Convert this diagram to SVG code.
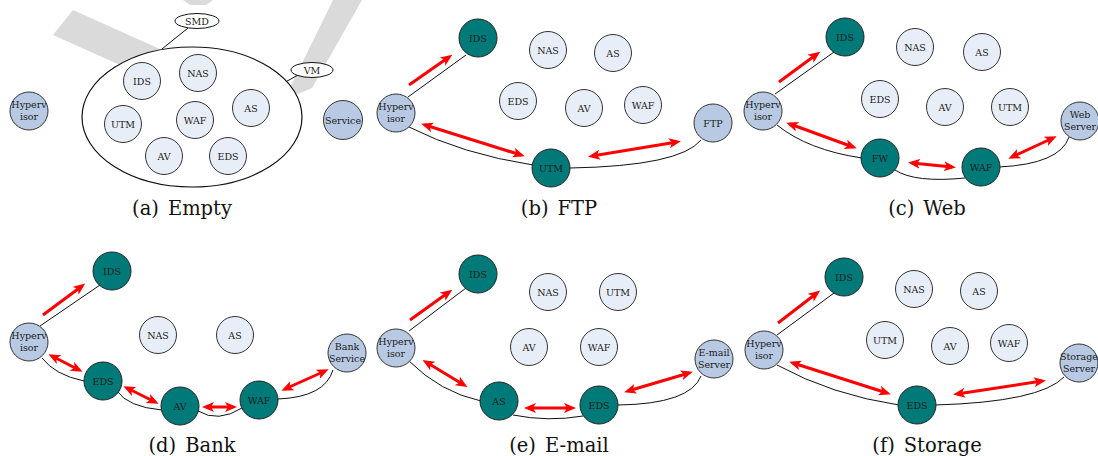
<svg xmlns="http://www.w3.org/2000/svg" width="1098" height="456" viewBox="0 0 1098 456">
<style>
.light{fill:#E8EEF8;stroke:#333;stroke-width:1}
.teal{fill:#007A78;stroke:#222;stroke-width:1}
.hyp{fill:#B8CAE3;stroke:#333;stroke-width:1}
.lbl{font-family:"DejaVu Serif","Liberation Serif",serif;font-size:9.5px;text-anchor:middle;fill:#1a1a1a}
.cap{font-family:"DejaVu Serif","Liberation Serif",serif;font-size:19.5px;fill:#111;text-anchor:middle}
.link{fill:none;stroke:#111;stroke-width:1}
.arr{fill:none;stroke:#FF0000;stroke-width:3;marker-end:url(#ah)}
.arr2{fill:none;stroke:#FF0000;stroke-width:3;marker-end:url(#ah);marker-start:url(#ah)}
.wm{fill:#DADADA}
</style>
<defs>
<marker id="ah" viewBox="0 0 12 10" refX="8" refY="5" markerWidth="12" markerHeight="10" markerUnits="userSpaceOnUse" orient="auto-start-reverse">
<path d="M0,0 L12,5 L0,10 L3,5 z" fill="#FF0000"/>
</marker>
</defs>
<rect width="1098" height="456" fill="#fff"/>

<g id="watermark">
<polygon class="wm" points="73,10 53,35 200,101 220,76"/>
<polygon class="wm" points="333,0 362,0 312,88 284,100"/>
<polygon class="wm" points="183,0 213,0 206,5 190,5"/>
</g>

<!-- Panel (a) -->
<g id="a-links">
<line class="link" x1="188" y1="28" x2="162" y2="49"/>
<line class="link" x1="298" y1="75" x2="264" y2="94"/>
</g>
<g id="a-vmgroup"><ellipse cx="192" cy="117" rx="110" ry="70" fill="#fff" stroke="#111" stroke-width="1.2"/></g>
<g id="a-smd"><ellipse cx="197" cy="21" rx="22" ry="7.5" fill="#fff" stroke="#111"/><text class="lbl" x="197" y="24.5">SMD</text></g>
<g id="a-vm"><ellipse cx="312" cy="70" rx="21" ry="7.5" fill="#fff" stroke="#111"/><text class="lbl" x="312" y="73.5">VM</text></g>
<g id="a-ids"><circle class="light" cx="142" cy="81" r="18.5"/><text class="lbl" x="142" y="84.5">IDS</text></g>
<g id="a-nas"><circle class="light" cx="198" cy="73" r="18.5"/><text class="lbl" x="198" y="76.5">NAS</text></g>
<g id="a-as"><circle class="light" cx="251" cy="108" r="18.5"/><text class="lbl" x="251" y="111.5">AS</text></g>
<g id="a-utm"><circle class="light" cx="123" cy="124" r="18.5"/><text class="lbl" x="123" y="127.5">UTM</text></g>
<g id="a-waf"><circle class="light" cx="195" cy="120" r="18.5"/><text class="lbl" x="195" y="123.5">WAF</text></g>
<g id="a-av"><circle class="light" cx="164" cy="156" r="18.5"/><text class="lbl" x="164" y="159.5">AV</text></g>
<g id="a-eds"><circle class="light" cx="228" cy="156" r="18.5"/><text class="lbl" x="228" y="159.5">EDS</text></g>
<g id="a-hyp"><circle class="hyp" cx="29" cy="111" r="19"/><text class="lbl" x="29" y="108">Hyperv</text><text class="lbl" x="29" y="120">isor</text></g>
<g id="a-service"><circle class="hyp" cx="343" cy="120" r="19.5"/><text class="lbl" x="343" y="123.5">Service</text></g>
<text class="cap" x="182" y="215">(a)<tspan dx="9">Empty</tspan></text>

<!-- Panel (b) -->
<g id="b-connectors">
<line class="link" x1="408" y1="97" x2="466" y2="55"/>
<path class="link" d="M409,127 Q462,154 533,165"/>
<path class="link" d="M570,168 Q680,166 701,140"/>
<line class="arr" x1="409" y1="85" x2="449" y2="57"/>
<line class="arr2" x1="425" y1="125" x2="521" y2="155"/>
<line class="arr2" x1="592" y1="156" x2="677" y2="142"/>
</g>
<g id="b-ids"><circle class="teal" cx="478" cy="38" r="19"/><text class="lbl" x="478" y="41.5">IDS</text></g>
<g id="b-nas"><circle class="light" cx="548" cy="50" r="18.5"/><text class="lbl" x="548" y="53.5">NAS</text></g>
<g id="b-as"><circle class="light" cx="613" cy="53" r="18.5"/><text class="lbl" x="613" y="56.5">AS</text></g>
<g id="b-eds"><circle class="light" cx="518" cy="101" r="18.5"/><text class="lbl" x="518" y="104.5">EDS</text></g>
<g id="b-av"><circle class="light" cx="584" cy="108" r="18.5"/><text class="lbl" x="584" y="111.5">AV</text></g>
<g id="b-waf"><circle class="light" cx="643" cy="105" r="18.5"/><text class="lbl" x="643" y="108.5">WAF</text></g>
<g id="b-hyp"><circle class="hyp" cx="396" cy="113" r="19"/><text class="lbl" x="396" y="110">Hyperv</text><text class="lbl" x="396" y="122">isor</text></g>
<g id="b-ftp"><circle class="hyp" cx="713" cy="123" r="19"/><text class="lbl" x="713" y="126.5">FTP</text></g>
<g id="b-utm"><circle class="teal" cx="551" cy="168" r="19"/><text class="lbl" x="551" y="171.5">UTM</text></g>
<text class="cap" x="559" y="215">(b)<tspan dx="9">FTP</tspan></text>

<!-- Panel (c) -->
<g id="c-connectors">
<line class="link" x1="775" y1="94" x2="834" y2="52"/>
<path class="link" d="M777,125 Q808,150 862,158"/>
<path class="link" d="M895,170 Q915,183 965,178"/>
<path class="link" d="M999,167 Q1060,164 1069,137"/>
<line class="arr" x1="779" y1="82" x2="817" y2="54"/>
<line class="arr2" x1="790" y1="124" x2="853" y2="147"/>
<line class="arr2" x1="912" y1="163" x2="952" y2="167"/>
<line class="arr2" x1="1012" y1="157" x2="1053" y2="138"/>
</g>
<g id="c-ids"><circle class="teal" cx="845" cy="37" r="19"/><text class="lbl" x="845" y="40.5">IDS</text></g>
<g id="c-nas"><circle class="light" cx="915" cy="47" r="18.5"/><text class="lbl" x="915" y="50.5">NAS</text></g>
<g id="c-as"><circle class="light" cx="982" cy="52" r="18.5"/><text class="lbl" x="982" y="55.5">AS</text></g>
<g id="c-eds"><circle class="light" cx="880" cy="99" r="18.5"/><text class="lbl" x="880" y="102.5">EDS</text></g>
<g id="c-av"><circle class="light" cx="945" cy="107" r="18.5"/><text class="lbl" x="945" y="110.5">AV</text></g>
<g id="c-utm"><circle class="light" cx="1010" cy="107" r="18.5"/><text class="lbl" x="1010" y="110.5">UTM</text></g>
<g id="c-hyp"><circle class="hyp" cx="763" cy="111" r="19"/><text class="lbl" x="763" y="108">Hyperv</text><text class="lbl" x="763" y="120">isor</text></g>
<g id="c-web"><circle class="hyp" cx="1080" cy="121" r="19"/><text class="lbl" x="1080" y="118">Web</text><text class="lbl" x="1080" y="130">Server</text></g>
<g id="c-fw"><circle class="teal" cx="880" cy="158" r="19"/><text class="lbl" x="880" y="161.5">FW</text></g>
<g id="c-waf"><circle class="teal" cx="981" cy="167" r="19"/><text class="lbl" x="981" y="170.5">WAF</text></g>
<text class="cap" x="927" y="215">(c)<tspan dx="9">Web</tspan></text>

<!-- Panel (d) -->
<g id="d-connectors">
<line class="link" x1="40" y1="326" x2="100" y2="285"/>
<path class="link" d="M42,358 Q55,375 84,381"/>
<path class="link" d="M117,391 Q128,407 162,410"/>
<path class="link" d="M198,411 Q218,423 242,408"/>
<path class="link" d="M278,399 Q325,397 333,370"/>
<line class="arr" x1="43" y1="315" x2="82" y2="286"/>
<line class="arr2" x1="52" y1="356" x2="79" y2="370"/>
<line class="arr2" x1="127" y1="388" x2="155" y2="402"/>
<line class="arr2" x1="206" y1="407" x2="233" y2="407"/>
<line class="arr2" x1="285" y1="389" x2="325" y2="371"/>
</g>
<g id="d-ids"><circle class="teal" cx="112" cy="271" r="19"/><text class="lbl" x="112" y="274.5">IDS</text></g>
<g id="d-nas"><circle class="light" cx="158" cy="335" r="18.5"/><text class="lbl" x="158" y="338.5">NAS</text></g>
<g id="d-as"><circle class="light" cx="235" cy="335" r="18.5"/><text class="lbl" x="235" y="338.5">AS</text></g>
<g id="d-hyp"><circle class="hyp" cx="29" cy="342" r="19"/><text class="lbl" x="29" y="339">Hyperv</text><text class="lbl" x="29" y="351">isor</text></g>
<g id="d-bank"><circle class="hyp" cx="347" cy="353" r="19"/><text class="lbl" x="347" y="350">Bank</text><text class="lbl" x="347" y="362">Service</text></g>
<g id="d-eds"><circle class="teal" cx="103" cy="381" r="19"/><text class="lbl" x="103" y="384.5">EDS</text></g>
<g id="d-av"><circle class="teal" cx="180" cy="406" r="19"/><text class="lbl" x="180" y="409.5">AV</text></g>
<g id="d-waf"><circle class="teal" cx="259" cy="400" r="19"/><text class="lbl" x="259" y="403.5">WAF</text></g>
<text class="cap" x="192" y="452">(d)<tspan dx="9">Bank</tspan></text>

<!-- Panel (e) -->
<g id="e-connectors">
<line class="link" x1="409" y1="331" x2="466" y2="288"/>
<path class="link" d="M409,361 Q440,392 481,401"/>
<path class="link" d="M513,415 Q548,422 583,416"/>
<path class="link" d="M618,405 Q690,404 701,376"/>
<line class="arr" x1="410" y1="320" x2="449" y2="292"/>
<line class="arr2" x1="426" y1="362" x2="464" y2="385"/>
<line class="arr2" x1="528" y1="408" x2="572" y2="408"/>
<line class="arr2" x1="628" y1="391" x2="689" y2="373"/>
</g>
<g id="e-ids"><circle class="teal" cx="478" cy="274" r="19"/><text class="lbl" x="478" y="277.5">IDS</text></g>
<g id="e-nas"><circle class="light" cx="548" cy="292" r="18.5"/><text class="lbl" x="548" y="295.5">NAS</text></g>
<g id="e-utm"><circle class="light" cx="618" cy="292" r="18.5"/><text class="lbl" x="618" y="295.5">UTM</text></g>
<g id="e-av"><circle class="light" cx="529" cy="347" r="18.5"/><text class="lbl" x="529" y="350.5">AV</text></g>
<g id="e-waf"><circle class="light" cx="599" cy="347" r="18.5"/><text class="lbl" x="599" y="350.5">WAF</text></g>
<g id="e-hyp"><circle class="hyp" cx="396" cy="348" r="19"/><text class="lbl" x="396" y="345">Hyperv</text><text class="lbl" x="396" y="357">isor</text></g>
<g id="e-mail"><circle class="hyp" cx="714" cy="359" r="19"/><text class="lbl" x="714" y="356">E-mail</text><text class="lbl" x="714" y="368">Server</text></g>
<g id="e-as"><circle class="teal" cx="499" cy="401" r="19"/><text class="lbl" x="499" y="404.5">AS</text></g>
<g id="e-eds"><circle class="teal" cx="599" cy="405" r="19"/><text class="lbl" x="599" y="408.5">EDS</text></g>
<text class="cap" x="559" y="452">(e)<tspan dx="9">E-mail</tspan></text>

<!-- Panel (f) -->
<g id="f-connectors">
<line class="link" x1="777" y1="335" x2="834" y2="293"/>
<path class="link" d="M777,365 Q832,395 899,405"/>
<path class="link" d="M935,405 Q1040,402 1064,377"/>
<line class="arr" x1="778" y1="323" x2="817" y2="293"/>
<line class="arr2" x1="793" y1="363" x2="887" y2="393"/>
<line class="arr2" x1="957" y1="394" x2="1042" y2="381"/>
</g>
<g id="f-ids"><circle class="teal" cx="844" cy="277" r="19"/><text class="lbl" x="844" y="280.5">IDS</text></g>
<g id="f-nas"><circle class="light" cx="914" cy="289" r="18.5"/><text class="lbl" x="914" y="292.5">NAS</text></g>
<g id="f-as"><circle class="light" cx="979" cy="291" r="18.5"/><text class="lbl" x="979" y="294.5">AS</text></g>
<g id="f-utm"><circle class="light" cx="885" cy="340" r="18.5"/><text class="lbl" x="885" y="343.5">UTM</text></g>
<g id="f-av"><circle class="light" cx="950" cy="346" r="18.5"/><text class="lbl" x="950" y="349.5">AV</text></g>
<g id="f-waf"><circle class="light" cx="1009" cy="343" r="18.5"/><text class="lbl" x="1009" y="346.5">WAF</text></g>
<g id="f-hyp"><circle class="hyp" cx="764" cy="350" r="19"/><text class="lbl" x="764" y="347">Hyperv</text><text class="lbl" x="764" y="359">isor</text></g>
<g id="f-storage"><circle class="hyp" cx="1079" cy="363" r="19"/><text class="lbl" x="1079" y="360">Storage</text><text class="lbl" x="1079" y="372">Server</text></g>
<g id="f-eds"><circle class="teal" cx="917" cy="405" r="19"/><text class="lbl" x="917" y="408.5">EDS</text></g>
<text class="cap" x="927" y="452">(f)<tspan dx="9">Storage</tspan></text>
</svg>
